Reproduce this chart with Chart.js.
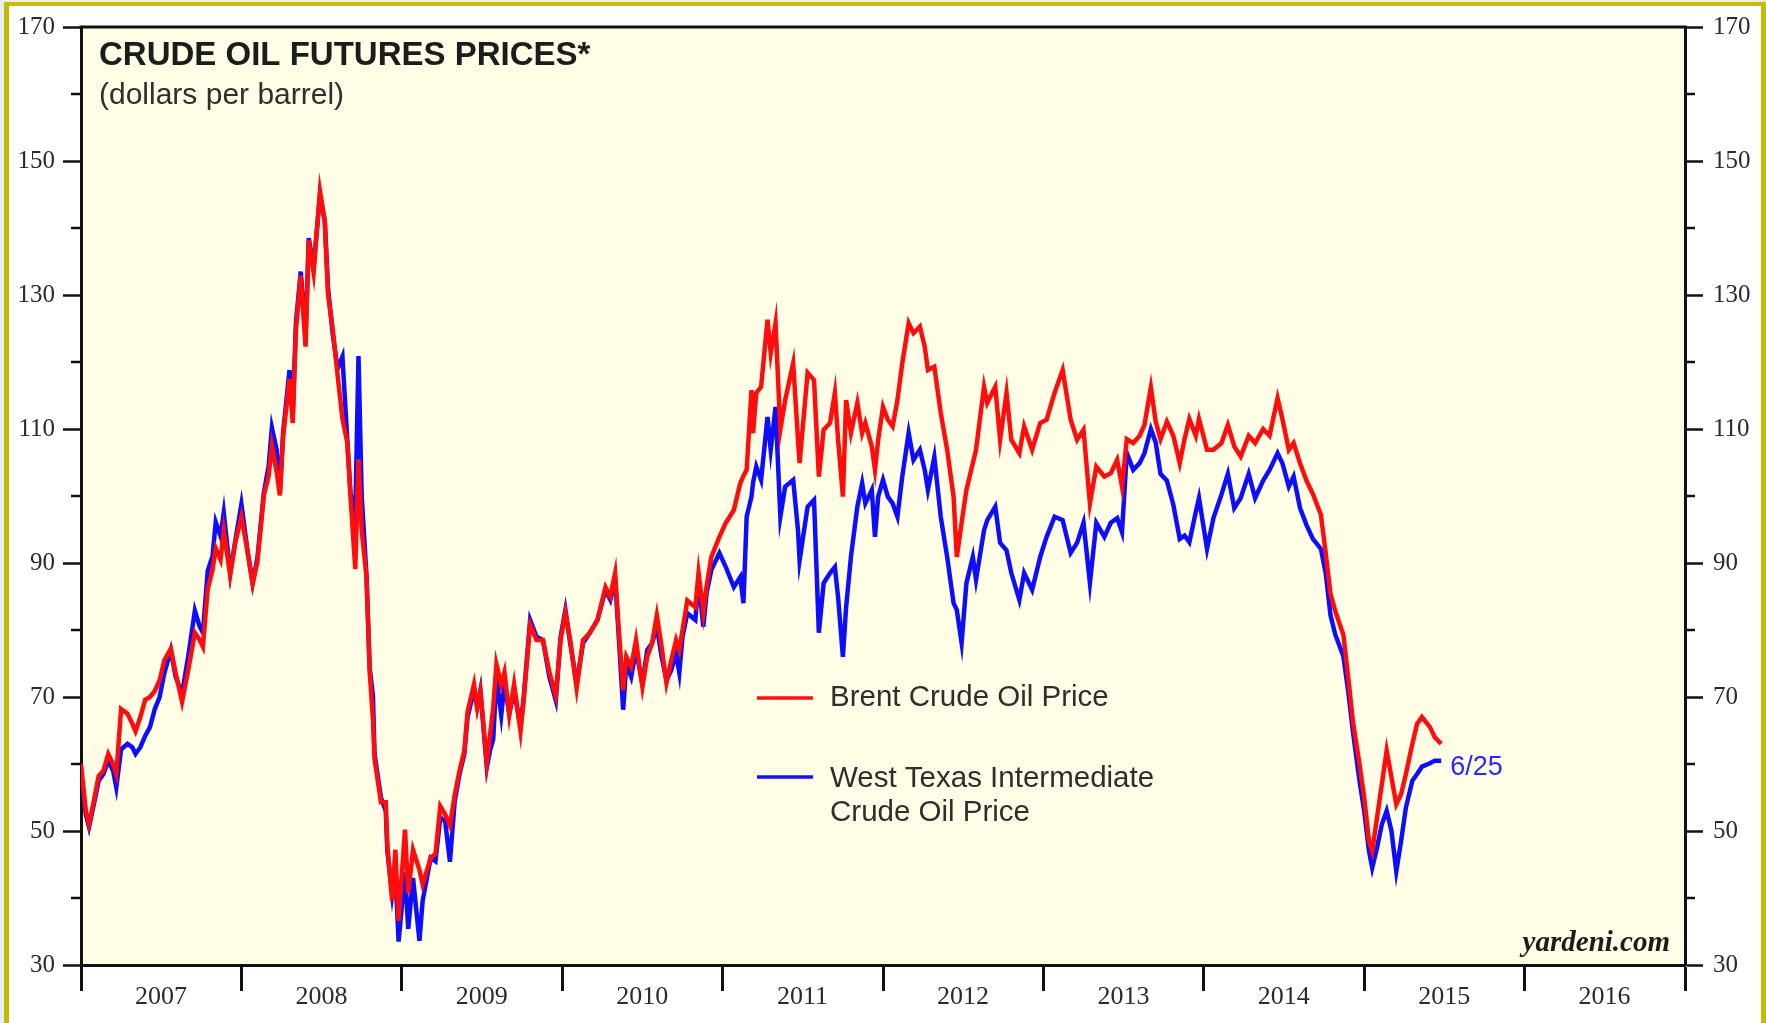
<!DOCTYPE html>
<html>
<head>
<meta charset="utf-8">
<title>Crude Oil Futures Prices</title>
<script src="https://cdn.jsdelivr.net/npm/chart.js@4.4.1/dist/chart.umd.min.js"></script>
<style>
    html, body { margin: 0; padding: 0; background: #e9eff9; }
    #wrap { width: 1766px; height: 1023px; }
</style>
</head>
<body>
<div id="wrap"><canvas id="oilChart" width="1766" height="1023"></canvas></div>
<script>
'use strict';

// dates as decimal years
var dates = [
    2007.00,2007.03,2007.05,2007.08,2007.11,2007.14,2007.17,2007.20,2007.22,2007.25,2007.29,2007.32,2007.34,2007.37,2007.40,2007.43,2007.46,2007.49,2007.52,2007.56,2007.59,2007.63,2007.67,2007.71,2007.74,2007.76,2007.79,2007.82,2007.84,2007.87,2007.89,2007.93,2007.96,
    2008.00,2008.04,2008.07,2008.10,2008.14,2008.17,2008.19,2008.22,2008.24,2008.26,2008.30,2008.32,2008.34,2008.37,2008.40,2008.42,2008.45,2008.49,2008.52,2008.54,2008.57,2008.60,2008.63,2008.66,2008.68,2008.71,2008.73,2008.75,2008.78,2008.80,2008.82,2008.83,2008.87,2008.90,2008.91,2008.94,2008.96,2008.98,
    2009.02,2009.04,2009.07,2009.11,2009.13,2009.18,2009.21,2009.24,2009.27,2009.30,2009.33,2009.36,2009.39,2009.41,2009.45,2009.47,2009.49,2009.53,2009.55,2009.57,2009.59,2009.62,2009.64,2009.67,2009.70,2009.74,2009.76,2009.80,2009.84,2009.88,2009.92,2009.96,2009.99,
    2010.02,2010.05,2010.09,2010.13,2010.17,2010.22,2010.27,2010.30,2010.33,2010.35,2010.38,2010.40,2010.43,2010.46,2010.50,2010.53,2010.56,2010.59,2010.62,2010.65,2010.68,2010.71,2010.73,2010.75,2010.78,2010.83,2010.85,2010.88,2010.90,2010.93,2010.98,
    2011.02,2011.07,2011.11,2011.13,2011.15,2011.18,2011.19,2011.21,2011.24,2011.28,2011.30,2011.33,2011.36,2011.39,2011.44,2011.47,2011.48,2011.53,2011.57,2011.60,2011.63,2011.67,2011.70,2011.72,2011.75,2011.77,2011.80,2011.84,2011.87,2011.89,2011.93,2011.95,2011.97,
    2012.00,2012.03,2012.06,2012.09,2012.12,2012.16,2012.19,2012.23,2012.26,2012.28,2012.32,2012.36,2012.40,2012.44,2012.46,2012.49,2012.52,2012.56,2012.58,2012.63,2012.65,2012.70,2012.73,2012.77,2012.80,2012.85,2012.88,2012.93,2012.98,
    2013.02,2013.07,2013.12,2013.17,2013.21,2013.25,2013.29,2013.33,2013.38,2013.42,2013.46,2013.49,2013.52,2013.56,2013.60,2013.63,2013.67,2013.70,2013.73,2013.77,2013.81,2013.85,2013.88,2013.91,2013.95,2013.97,
    2014.02,2014.06,2014.11,2014.15,2014.19,2014.23,2014.28,2014.32,2014.37,2014.41,2014.46,2014.49,2014.53,2014.56,2014.60,2014.64,2014.68,2014.73,2014.76,2014.79,2014.82,2014.87,2014.90,2014.93,2014.97,
    2015.00,2015.03,2015.05,2015.08,2015.11,2015.14,2015.17,2015.20,2015.23,2015.26,2015.30,2015.33,2015.36,2015.41,2015.44,2015.48
];

var brent = [
    60.0,53.0,51.0,54.5,58.2,59.0,61.5,60.0,58.5,68.2,67.5,66.0,64.9,67.0,69.6,70.0,70.9,72.5,75.5,77.2,73.6,69.3,74.2,79.6,78.5,77.5,86.1,89.0,92.2,90.5,94.8,88.2,92.8,
    96.9,91.5,86.9,90.2,100.1,103.0,107.5,103.6,100.1,108.8,117.5,110.9,124.8,132.9,122.3,138.2,133.4,145.5,140.9,130.1,124.8,118.0,111.5,108.0,100.0,89.1,105.5,94.9,87.9,73.7,66.7,60.8,54.3,54.3,47.8,39.6,47.2,36.6,
    50.2,40.7,47.2,44.2,42.0,46.0,46.6,53.7,52.5,50.8,55.4,59.0,62.0,67.8,71.9,68.4,70.8,60.2,64.3,68.4,74.9,71.9,73.7,67.3,71.9,64.9,69.6,80.8,78.5,78.5,73.7,70.2,78.5,
    82.6,78.5,71.3,78.5,79.5,81.5,86.4,85.0,88.5,81.0,71.0,76.0,74.5,78.5,71.5,76.0,78.0,82.2,77.5,72.1,75.5,78.5,77.0,80.0,84.4,83.4,88.5,82.6,86.5,90.9,93.9,
    96.0,97.9,101.9,103.0,103.9,115.8,109.4,115.4,116.3,126.3,121.3,125.8,109.9,114.3,119.8,108.4,104.9,118.4,117.3,102.9,109.9,110.9,115.4,108.4,99.9,114.3,109.4,113.9,109.4,110.9,107.4,103.9,108.4,
    113.3,111.4,110.4,114.3,119.8,125.8,124.3,125.3,122.3,118.8,119.3,112.4,106.9,99.9,90.9,96.0,100.9,104.9,106.9,116.3,113.9,116.3,108.4,115.4,108.4,106.4,110.4,106.9,110.9,
    111.4,115.4,118.8,111.4,108.4,109.9,98.9,104.4,102.9,103.4,105.4,101.4,108.5,107.9,109.0,110.6,116.2,111.1,108.5,111.1,109.0,104.9,108.5,111.5,109.0,111.5,
    106.9,106.9,107.9,110.6,107.4,105.9,109.0,107.9,110.0,109.0,114.6,111.5,106.9,107.9,104.9,102.3,100.3,97.2,91.5,85.4,82.8,79.3,73.0,66.3,60.1,
    55.0,48.5,47.0,52.0,57.0,62.0,58.0,54.0,55.5,58.5,63.0,66.0,67.0,65.5,64.0,63.0
];

var wti = [
    58.5,52.5,50.6,54.0,57.5,58.5,60.5,59.0,56.5,62.2,63.0,62.5,61.5,62.5,64.2,65.5,68.2,70.0,73.6,77.0,73.0,70.5,76.3,82.9,80.5,79.6,88.8,91.0,96.1,94.0,97.5,88.5,93.0,
    98.8,91.5,87.0,90.8,100.5,104.5,110.2,106.9,100.5,109.5,118.8,112.0,125.9,133.5,124.0,138.5,134.0,145.0,141.0,131.0,124.0,119.0,120.8,108.5,100.5,97.0,120.9,100.0,88.0,74.3,70.2,61.5,55.0,53.0,47.0,40.5,44.0,33.5,
    43.8,35.4,43.0,33.6,39.6,46.0,45.5,52.0,51.5,45.4,54.5,58.5,61.5,67.0,71.0,68.5,71.0,59.5,62.0,63.7,73.0,67.3,72.0,67.5,71.0,65.5,70.0,81.5,79.0,78.5,73.0,69.5,79.0,
    83.0,78.0,72.0,78.0,79.5,81.5,86.0,84.5,87.5,80.0,68.1,75.0,73.0,77.0,72.0,77.0,78.0,80.5,76.0,72.5,74.0,76.5,73.6,79.0,82.5,81.5,87.5,80.5,85.5,89.0,91.5,
    89.4,86.4,87.9,84.0,96.9,99.9,102.0,104.4,102.4,111.8,106.9,113.3,96.9,101.4,102.4,94.9,90.4,98.4,99.4,79.6,87.0,88.5,89.4,84.9,76.0,83.4,90.9,98.4,101.9,98.9,100.9,93.9,99.9,
    102.4,99.9,98.9,96.9,102.9,109.4,105.4,106.9,103.9,100.9,105.8,96.9,90.9,84.0,83.0,78.1,87.0,90.9,87.5,94.9,96.4,98.4,93.0,91.9,88.5,84.5,88.5,86.0,90.9,
    93.9,96.9,96.4,91.5,93.0,96.0,87.0,96.0,93.9,96.0,96.7,94.6,106.4,103.9,104.9,106.4,110.0,108.0,103.3,102.3,98.7,93.6,94.1,93.1,97.6,99.7,
    92.1,96.7,100.2,103.3,98.2,99.7,103.3,99.7,102.3,103.9,106.4,104.9,101.4,102.9,98.2,95.7,93.6,92.1,88.5,82.2,79.3,76.1,70.9,64.8,57.6,
    53.0,47.0,44.5,47.5,51.0,53.0,50.0,44.0,48.5,53.5,57.5,58.5,59.6,60.1,60.5,60.5
];

var yearLabels = ['2007', '2008', '2009', '2010', '2011', '2012', '2013', '2014', '2015', '2016'];
var yTicks = [30, 50, 70, 90, 110, 130, 150, 170];
var yMinorTicks = [40, 60, 80, 100, 120, 140, 160];
var lastDateLabel = '6/25';

var brentPoints = dates.map(function (d, i) { return { x: d, y: brent[i] }; });
var wtiPoints = dates.map(function (d, i) { return { x: d, y: wti[i] }; });

var tickFont = { family: 'Liberation Serif', size: 25 };

// page frame, cream plot area, minor ticks and the text inside the plot
var decorations = {
    id: 'decorations',
    beforeDraw: function (chart) {
        var ctx = chart.ctx;
        var a = chart.chartArea;
        ctx.save();
        ctx.fillStyle = '#e9eff9';
        ctx.fillRect(0, 0, chart.width, chart.height);
        ctx.fillStyle = '#c9bb00';
        ctx.fillRect(4, 2, chart.width - 4, chart.height - 2);
        ctx.fillStyle = '#ffffff';
        ctx.fillRect(9, 6, chart.width - 14, chart.height - 6);
        ctx.fillStyle = '#fffde6';
        ctx.fillRect(a.left, a.top, a.right - a.left, a.bottom - a.top);
        ctx.restore();
    },
    afterDraw: function (chart) {
        var ctx = chart.ctx;
        var a = chart.chartArea;
        var y = chart.scales.y;
        var x = chart.scales.x;
        ctx.save();

        // top border
        ctx.strokeStyle = '#111';
        ctx.lineWidth = 3;
        ctx.beginPath();
        ctx.moveTo(a.left - 1.5, a.top);
        ctx.lineTo(a.right + 1.5, a.top);
        ctx.stroke();

        // minor ticks on both sides
        ctx.lineWidth = 2.5;
        yMinorTicks.forEach(function (v) {
            var py = Math.round(y.getPixelForValue(v));
            ctx.beginPath();
            ctx.moveTo(a.left - 10, py);
            ctx.lineTo(a.left, py);
            ctx.moveTo(a.right, py);
            ctx.lineTo(a.right + 10, py);
            ctx.stroke();
        });

        ctx.textBaseline = 'middle';
        ctx.textAlign = 'left';
        ctx.fillStyle = '#1c1c1c';
        ctx.font = 'bold 33px "Liberation Sans"';
        ctx.fillText('CRUDE OIL FUTURES PRICES*', a.left + 18, a.top + 29);
        ctx.fillStyle = '#2e2e2e';
        ctx.font = '30px "Liberation Sans"';
        ctx.fillText('(dollars per barrel)', a.left + 18, a.top + 69);

        // legend
        var lx = 757;
        ctx.lineWidth = 3.5;
        ctx.strokeStyle = '#ff1010';
        ctx.beginPath(); ctx.moveTo(lx, 698); ctx.lineTo(lx + 56, 698); ctx.stroke();
        ctx.strokeStyle = '#1010ff';
        ctx.beginPath(); ctx.moveTo(lx, 777); ctx.lineTo(lx + 56, 777); ctx.stroke();
        ctx.fillStyle = '#2e2e2e';
        ctx.font = '29.5px "Liberation Sans"';
        ctx.fillText('Brent Crude Oil Price', lx + 73, 698);
        ctx.fillText('West Texas Intermediate', lx + 73, 779);
        ctx.fillText('Crude Oil Price', lx + 73, 813);

        // last date marker next to the end of the WTI line
        var n = dates.length - 1;
        ctx.fillStyle = '#2828ff';
        ctx.font = '27px "Liberation Sans"';
        ctx.fillText(lastDateLabel, x.getPixelForValue(dates[n]) + 9, y.getPixelForValue(wti[n]) + 7);

        ctx.textAlign = 'right';
        ctx.fillStyle = '#1c1c1c';
        ctx.font = 'italic bold 29px "Liberation Serif"';
        ctx.fillText('yardeni.com', a.right - 15, a.bottom - 21);

        ctx.restore();
    }
};

var oilChart = new Chart(document.getElementById('oilChart'), {
    type: 'line',
    data: {
        datasets: [
            {
                label: 'Brent Crude Oil Price',
                data: brentPoints,
                borderColor: '#ff0d0d',
                borderWidth: 4.5,
                pointRadius: 0,
                tension: 0,
                order: 0
            },
            {
                label: 'West Texas Intermediate Crude Oil Price',
                data: wtiPoints,
                borderColor: '#0d0dff',
                borderWidth: 4.5,
                pointRadius: 0,
                tension: 0,
                order: 1
            }
        ]
    },
    options: {
        responsive: false,
        animation: false,
        devicePixelRatio: 1,
        layout: { padding: { left: 0, right: 0, top: 27, bottom: 0 } },
        plugins: {
            legend: { display: false },
            tooltip: { enabled: false }
        },
        scales: {
            x: {
                type: 'linear',
                min: 2007,
                max: 2017,
                afterBuildTicks: function (scale) {
                    var t = [];
                    for (var yr = 2007; yr <= 2017; yr++) t.push({ value: yr });
                    scale.ticks = t;
                },
                afterFit: function (scale) { scale.height = 58; },
                grid: {
                    drawOnChartArea: false,
                    tickLength: 26,
                    tickWidth: 3,
                    tickColor: '#111'
                },
                border: { display: true, color: '#111', width: 3 },
                ticks: {
                    autoSkip: false,
                    maxRotation: 0,
                    labelOffset: 80,
                    padding: -9,
                    color: '#2b2b2b',
                    font: { family: 'Liberation Serif', size: 26 },
                    callback: function (v) { return yearLabels[v - 2007] || ''; }
                }
            },
            y: {
                position: 'left',
                min: 30,
                max: 170,
                afterBuildTicks: function (scale) {
                    scale.ticks = yTicks.map(function (v) { return { value: v }; });
                },
                afterFit: function (scale) { scale.width = 81; },
                grid: {
                    drawOnChartArea: false,
                    tickLength: 18,
                    tickWidth: 2.5,
                    tickColor: '#111'
                },
                border: { display: true, color: '#111', width: 3 },
                ticks: { padding: 8, color: '#2b2b2b', font: tickFont }
            },
            y2: {
                position: 'right',
                min: 30,
                max: 170,
                afterBuildTicks: function (scale) {
                    scale.ticks = yTicks.map(function (v) { return { value: v }; });
                },
                afterFit: function (scale) { scale.width = 81; },
                grid: {
                    drawOnChartArea: false,
                    tickLength: 18,
                    tickWidth: 2.5,
                    tickColor: '#111'
                },
                border: { display: true, color: '#111', width: 3 },
                ticks: { padding: 10, color: '#2b2b2b', font: tickFont }
            }
        }
    },
    plugins: [decorations]
});
</script>
</body>
</html>
